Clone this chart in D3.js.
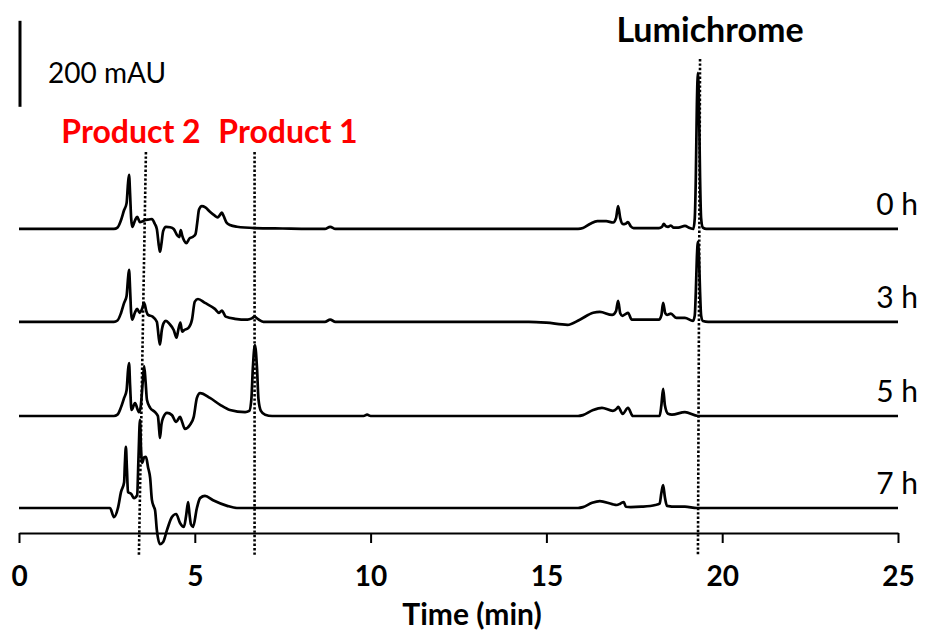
<!DOCTYPE html>
<html>
<head>
<meta charset="utf-8">
<script src="https://cdn.jsdelivr.net/npm/d3@7"></script>
<style>
  html, body { margin: 0; padding: 0; background: #fff; }
  text { font-family: Lato, "Open Sans", "DejaVu Sans", sans-serif; }
</style>
</head>
<body>
<svg id="chart" width="927" height="637"></svg>
<script>
// HPLC chromatograms (absorbance, mAU vs retention time, min) at four sampling times
const sampleLabels = ["0 h", "3 h", "5 h", "7 h"];
// vertical stacking offset of each trace, mAU
const stackOffsets = [649, 433, 214, 0];

const trace0h = [
  [0, 0], [2.70, 0], [2.80, 3], [2.90, 20], [2.99, 44], [3.06, 60], [3.10, 105], [3.13, 126], [3.16, 80],
  [3.19, 25], [3.22, 5], [3.30, 20], [3.36, 28], [3.44, 16], [3.52, 18], [3.60, 21], [3.70, 22], [3.78, 23],
  [3.86, 12], [3.92, 0], [3.98, -40], [4.01, -53], [4.05, -35], [4.10, -5], [4.18, 5], [4.30, 4], [4.40, 0],
  [4.50, -15], [4.56, -19], [4.60, -3], [4.64, -15], [4.70, -28], [4.76, -33], [4.85, -22], [4.95, -18],
  [5.02, -12], [5.07, 15], [5.12, 45], [5.20, 53], [5.30, 50], [5.43, 40], [5.55, 32], [5.65, 27], [5.72, 33],
  [5.77, 38], [5.82, 30], [5.90, 15], [6.00, 9], [6.20, 5], [6.70, 2], [7.50, 1], [8.70, 0], [8.85, 5],
  [9.00, 0], [15.90, 0], [16.04, 2], [16.25, 12], [16.45, 18], [16.70, 18], [16.90, 15], [16.98, 25],
  [17.04, 53], [17.10, 25], [17.18, 11], [17.25, 12], [17.32, 16], [17.40, 6], [17.48, 2], [18.20, 2],
  [18.29, 5], [18.34, 12], [18.40, 6], [18.46, 5], [18.54, 8], [18.62, 3], [18.75, 3], [18.94, 7],
  [19.08, 2], [19.18, 0], [19.22, 25], [19.25, 120], [19.28, 290], [19.31, 363], [19.34, 290], [19.37, 120],
  [19.40, 25], [19.45, 3], [19.55, 0], [25, 0]
];

const trace3h = [
  [0, 0], [2.70, 0], [2.80, 3], [2.90, 20], [2.99, 44], [3.06, 60], [3.10, 100], [3.13, 121], [3.16, 75],
  [3.19, 20], [3.22, 5], [3.30, 22], [3.36, 30], [3.43, 21], [3.50, 30], [3.56, 44], [3.62, 25], [3.67, 16],
  [3.80, 12], [3.92, 0], [3.98, -40], [4.01, -53], [4.06, -20], [4.12, -2], [4.18, 2], [4.28, -5], [4.40, -19],
  [4.48, -37], [4.53, -19], [4.59, -2], [4.64, -23], [4.70, -19], [4.82, -14], [4.92, 5], [5.00, 47],
  [5.09, 53], [5.29, 44], [5.57, 30], [5.69, 21], [5.77, 26], [5.88, 12], [6.14, 7], [6.50, 5], [6.62, 8],
  [6.70, 12], [6.80, 6], [6.95, 0], [8.70, 0], [8.85, 5], [9.00, 0], [14.50, 0], [15.00, -2], [15.60, -7],
  [15.95, 5], [16.33, 21], [16.52, 23], [16.87, 16], [16.98, 25], [17.04, 49], [17.10, 20], [17.16, 14],
  [17.25, 18], [17.32, 21], [17.43, 5], [18.20, 5], [18.27, 15], [18.32, 44], [18.38, 20], [18.43, 16],
  [18.54, 19], [18.70, 9], [18.94, 9], [19.17, 2], [19.22, 15], [19.25, 70], [19.28, 150], [19.31, 186],
  [19.34, 150], [19.37, 70], [19.40, 15], [19.45, 2], [19.60, 0], [25, 0]
];

const trace5h = [
  [0, 0], [2.70, 0], [2.80, 3], [2.90, 20], [2.99, 42], [3.06, 60], [3.10, 105], [3.13, 123], [3.16, 70],
  [3.20, 14], [3.30, 30], [3.41, 9], [3.46, 21], [3.52, 80], [3.56, 116], [3.60, 80], [3.64, 37], [3.73, 19],
  [3.87, 9], [3.95, 0], [3.99, -35], [4.01, -51], [4.05, -20], [4.10, -4], [4.21, 7], [4.35, 2], [4.47, -14],
  [4.58, -2], [4.64, -14], [4.72, -30], [4.86, -21], [4.97, -2], [5.06, 42], [5.15, 53], [5.43, 42],
  [5.72, 26], [6.00, 14], [6.43, 9], [6.55, 12], [6.61, 40], [6.65, 110], [6.71, 165], [6.77, 110],
  [6.81, 40], [6.88, 12], [7.00, 3], [7.20, 0], [9.80, 0], [9.90, 3], [10.00, 0], [15.90, 0], [16.04, 2],
  [16.33, 14], [16.58, 19], [16.89, 12], [17.00, 17], [17.04, 21], [17.17, 5], [17.32, 19], [17.46, 0],
  [18.22, 0], [18.27, 25], [18.32, 63], [18.37, 25], [18.46, 5], [18.57, 3], [18.94, 9], [19.31, 0], [25, 0]
];

const trace7h = [
  [0, 0], [2.59, 0], [2.70, -21], [2.82, 2], [2.90, 37], [2.99, 60], [3.01, 100], [3.04, 142], [3.07, 90],
  [3.10, 37], [3.19, 33], [3.27, 23], [3.36, 30], [3.40, 120], [3.44, 205], [3.47, 140], [3.50, 105],
  [3.56, 118], [3.61, 119], [3.67, 95], [3.73, 70], [3.78, 19], [3.84, 2], [3.87, -5], [3.92, -51],
  [4.01, -84], [4.10, -79], [4.21, -51], [4.35, -21], [4.47, -14], [4.58, -35], [4.69, -44], [4.75, -20],
  [4.81, 14], [4.85, -15], [4.89, -38], [4.95, -44], [5.06, 0], [5.15, 23], [5.29, 28], [5.52, 18],
  [5.92, 5], [6.20, 0], [15.90, 0], [16.04, 2], [16.30, 12], [16.52, 16], [16.87, 9], [17.00, 7],
  [17.10, 10], [17.20, 14], [17.26, 3], [17.40, 2], [17.70, 3], [18.10, 7], [18.22, 10], [18.27, 35],
  [18.32, 53], [18.37, 25], [18.43, 5], [18.70, 3], [18.94, 3], [19.28, 0], [25, 0]
];

const traces = [trace0h, trace3h, trace5h, trace7h];

const xTicks = [0, 5, 10, 15, 20, 25];
const axisTitle = "Time (min)";

// marked peaks: retention time where each guide line meets the top / bottom
const peakNames = ["Product 2", "Product 1", "Lumichrome"];
const peakColors = ["#ff0000", "#ff0000", "#000000"];
const peakTimesTop = [3.61, 6.70, 19.37];
const peakTimesBottom = [3.41, 6.70, 19.31];

const scaleBarValue = 200;          // mAU
const scaleBarLabel = "200 mAU";
const scaleBarBase = 933;           // mAU, on the stacked scale

// ---- drawing ----
const svg = d3.select("#chart");

const x = d3.scaleLinear().domain([0, 25]).range([19, 898]);
const y = d3.scaleLinear().domain([0, 1000]).range([508, 78]);

// guide lines at marked peaks
const guideTop = [152, 152, 59];
svg.append("g").selectAll("line")
  .data(peakNames)
  .join("line")
  .attr("x1", (d, i) => x(peakTimesTop[i]))
  .attr("x2", (d, i) => x(peakTimesBottom[i]))
  .attr("y1", (d, i) => guideTop[i])
  .attr("y2", 556)
  .attr("stroke", "#000")
  .attr("stroke-width", 2.6)
  .attr("stroke-dasharray", "2.4 2");

// chromatogram traces
const line = d3.line()
  .x(d => x(d[0]))
  .curve(d3.curveMonotoneX);

svg.append("g").selectAll("path")
  .data(traces)
  .join("path")
  .attr("d", (d, i) => line.y(p => y(p[1] + stackOffsets[i]))(d))
  .attr("fill", "none")
  .attr("stroke", "#000")
  .attr("stroke-width", 2.7)
  .attr("stroke-linejoin", "round");

// sample labels at the right end of each trace
svg.append("g").selectAll("text")
  .data(sampleLabels)
  .join("text")
  .attr("x", 918)
  .attr("y", (d, i) => y(stackOffsets[i]) - 14)
  .attr("text-anchor", "end")
  .attr("font-size", 30)
  .attr("fill", "#000")
  .text(d => d);

// x axis
const axis = d3.axisBottom(x)
  .tickValues(xTicks)
  .tickFormat(d3.format("d"))
  .tickSize(10)
  .tickSizeOuter(0)
  .tickPadding(23);

const gx = svg.append("g")
  .attr("transform", "translate(0,533)")
  .call(axis);
gx.select(".domain").attr("stroke", "#000").attr("stroke-width", 2);
gx.selectAll(".tick line").attr("stroke", "#000").attr("stroke-width", 2);
gx.selectAll(".tick text")
  .attr("font-size", 28)
  .attr("font-weight", "bold")
  .attr("font-family", "Lato, sans-serif")
  .attr("fill", "#000");

svg.append("text")
  .attr("x", 472)
  .attr("y", 625)
  .attr("text-anchor", "middle")
  .attr("font-size", 30)
  .attr("font-weight", "bold")
  .text(axisTitle);

// scale bar
svg.append("line")
  .attr("x1", 20).attr("x2", 20)
  .attr("y1", y(scaleBarBase))
  .attr("y2", y(scaleBarBase + scaleBarValue))
  .attr("stroke", "#000")
  .attr("stroke-width", 3);
svg.append("text")
  .attr("x", 48)
  .attr("y", 83)
  .attr("font-size", 28)
  .text(scaleBarLabel);

// peak names
const nameX = [131, 288, 710];
const nameY = [143, 143, 42];
const nameSize = [32, 32, 34];
svg.append("g").selectAll("text")
  .data(peakNames)
  .join("text")
  .attr("x", (d, i) => nameX[i])
  .attr("y", (d, i) => nameY[i])
  .attr("text-anchor", "middle")
  .attr("font-size", (d, i) => nameSize[i])
  .attr("font-weight", "bold")
  .attr("fill", (d, i) => peakColors[i])
  .text(d => d);
</script>
</body>
</html>
